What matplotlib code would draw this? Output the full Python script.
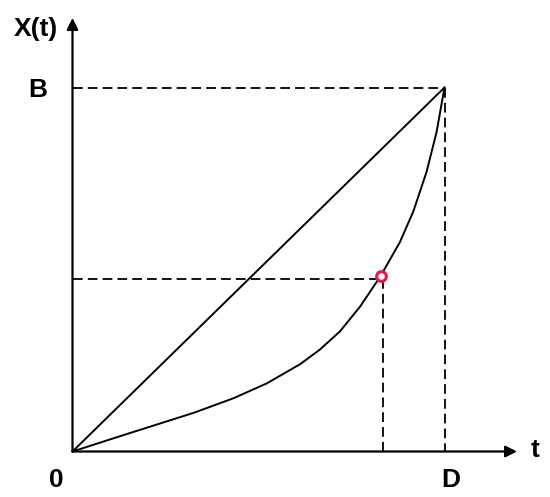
import matplotlib
matplotlib.use("Agg")
import matplotlib.pyplot as plt

# ---------------------------------------------------------------------------
# Data (normalised: D = 1 on t, B = 1 on X)
# ---------------------------------------------------------------------------
curve_t = [0.0, 0.146, 0.325, 0.432, 0.522, 0.612, 0.665, 0.719, 0.773,
           0.827, 0.880, 0.916, 0.952, 0.979, 1.0]
curve_x = [0.0, 0.048, 0.106, 0.146, 0.187, 0.240, 0.280, 0.330, 0.398,
           0.480, 0.575, 0.659, 0.769, 0.879, 1.0]

line_t = [0.0, 1.0]
line_x = [0.0, 1.0]

point_t = 0.829
point_x = 0.483
guide_t = 0.835
guide_x = 0.474

D = 1.0
B = 1.0

labels = {"origin": "0", "D": "D", "B": "B", "xlabel": "t", "ylabel": "X(t)"}

# ---------------------------------------------------------------------------
# Figure
# ---------------------------------------------------------------------------
fig = plt.figure(figsize=(5.5, 4.97), dpi=100)
ax = fig.add_axes([0, 0, 1, 1])
ax.set_xlim(-0.1949, 1.2836)
ax.set_ylim(-0.125, 1.2404)
ax.axis("off")

lw_dash = 1.3
dash = (5.4, 2.8)

# axes with arrows
arrow = dict(arrowstyle="-|>", color="black", lw=1.6,
             mutation_scale=17, shrinkA=0, shrinkB=0)
ax.annotate("", xy=(1.195, 0), xytext=(0, 0), arrowprops=arrow)
ax.annotate("", xy=(0, 1.191), xytext=(0, 0), arrowprops=arrow)

# dashed guides
ax.plot([0, D], [B, B], color="black", lw=lw_dash, dashes=dash)
ax.plot([D, D], [B, 0], color="black", lw=lw_dash, dashes=dash)
ax.plot([0, guide_t], [guide_x, guide_x], color="black", lw=lw_dash, dashes=dash)
ax.plot([guide_t, guide_t], [guide_x, 0], color="black", lw=lw_dash, dashes=dash)

# straight line and curve
ax.plot(line_t, line_x, color="black", lw=1.4, solid_capstyle="round")
ax.plot(curve_t, curve_x, color="black", lw=1.4, solid_joinstyle="round")

# highlighted point
ax.plot([point_t], [point_x], marker="o", ms=7, mfc="white", mec="#e8174b",
        mew=2.2, zorder=5)

font = dict(family=["Liberation Sans", "DejaVu Sans"], fontweight="bold",
            fontsize=19, color="black")
ax.text(-0.0995, 1.16, labels["ylabel"], ha="center", va="center", **font)
ax.text(-0.0935, B - 0.007, labels["B"], ha="center", va="center", **font)
ax.text(-0.0444, -0.078, labels["origin"], ha="center", va="center", **font)
ax.text(1.017, -0.078, labels["D"], ha="center", va="center", **font)
ax.text(1.243, 0.005, labels["xlabel"], ha="center", va="center", **font)

fig.savefig("out.png", dpi=100)
